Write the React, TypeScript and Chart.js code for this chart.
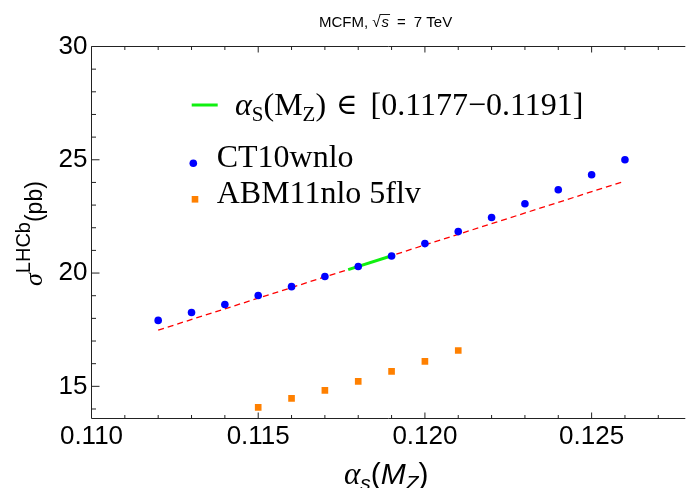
import React, { useEffect, useRef } from "react";
import { Chart, registerables } from "chart.js";
Chart.register(...registerables);

// ---- data ----
const ct10Alpha = [0.112, 0.113, 0.114, 0.115, 0.116, 0.117, 0.118, 0.119, 0.12, 0.121, 0.122, 0.123, 0.124, 0.125, 0.126];
const ct10Sigma = [17.91, 18.26, 18.61, 19.01, 19.4, 19.85, 20.29, 20.75, 21.3, 21.83, 22.45, 23.06, 23.68, 24.34, 25.0];
const abmAlpha = [0.115, 0.116, 0.117, 0.118, 0.119, 0.12, 0.121];
const abmSigma = [14.07, 14.47, 14.82, 15.22, 15.66, 16.1, 16.58];
const fitAlpha = [0.112, 0.126];
const fitSigma = [17.48, 24.06];
const rangeAlpha = [0.1177, 0.1191];
const rangeSigma = [20.15, 20.81];
const xMajor = [0.11, 0.115, 0.12, 0.125];
const xMinor = [0.111, 0.112, 0.113, 0.114, 0.116, 0.117, 0.118, 0.119, 0.121, 0.122, 0.123, 0.124, 0.126, 0.127];
const yMajor = [15, 20, 25, 30];
const yMinor = [14, 16, 17, 18, 19, 21, 22, 23, 24, 26, 27, 28, 29];
const xLimits = [0.11, 0.12775];
const yLimits = [13.58, 30];

const SANS = "'Liberation Sans', Arial, sans-serif";
const SERIF = "'Liberation Serif', 'Times New Roman', serif";

type Seg = { t: string; f: string; dy?: number; gap?: number };

function drawSegs(ctx: CanvasRenderingContext2D, x: number, y: number, segs: Seg[]) {
  let cx = x;
  for (const s of segs) {
    cx += s.gap || 0;
    ctx.font = s.f;
    ctx.fillText(s.t, cx, y + (s.dy || 0));
    cx += ctx.measureText(s.t).width;
  }
  return cx;
}

const decorPlugin = {
  id: "decor",
  afterDraw(chart: any) {
    const { ctx, chartArea, scales } = chart;
    const xs = scales.x;
    const ys = scales.y;
    const { left, right, top, bottom } = chartArea;
    ctx.save();
    // frame
    ctx.strokeStyle = "#222";
    ctx.lineWidth = 1;
    ctx.beginPath();
    ctx.moveTo(right + 2, top);
    ctx.lineTo(left, top);
    ctx.lineTo(left, bottom);
    ctx.lineTo(right + 2, bottom);
    ctx.stroke();
    // x ticks (bottom & top), inward
    const xt = (v: number, len: number) => {
      const px = xs.getPixelForValue(v);
      if (px <= left + 0.5 || px > right) return;
      ctx.beginPath();
      ctx.moveTo(px, bottom);
      ctx.lineTo(px, bottom - len);
      ctx.moveTo(px, top);
      ctx.lineTo(px, top + len);
      ctx.stroke();
    };
    xMajor.forEach((v) => xt(v, 6));
    xMinor.forEach((v) => xt(v, 3.5));
    const yt = (v: number, len: number) => {
      const py = ys.getPixelForValue(v);
      if (py < top - 0.5 || py > bottom) return;
      ctx.beginPath();
      ctx.moveTo(left, py);
      ctx.lineTo(left + len, py);
      ctx.stroke();
    };
    yMajor.forEach((v) => yt(v, 8));
    yMinor.forEach((v) => yt(v, 4.5));

    ctx.fillStyle = "#000";
    ctx.textBaseline = "alphabetic";
    ctx.textAlign = "left";

    // title
    const tEnd = drawSegs(ctx, 319, 27, [
      { t: "MCFM, ", f: `15px ${SANS}` },
      { t: "\u221A", f: `15px ${SANS}` },
    ]);
    const sEnd = drawSegs(ctx, tEnd, 27, [{ t: "s", f: `italic 15px ${SANS}`, gap: 1 }]);
    ctx.beginPath();
    ctx.lineWidth = 0.9;
    ctx.strokeStyle = "#000";
    ctx.moveTo(tEnd - 1, 14.5);
    ctx.lineTo(sEnd + 1, 14.5);
    ctx.stroke();
    drawSegs(ctx, sEnd, 27, [
      { t: "=", f: `15px ${SANS}`, gap: 8 },
      { t: "7 TeV", f: `15px ${SANS}`, gap: 8 },
    ]);

    // x axis title
    drawSegs(ctx, 344, 484, [
      { t: "\u03B1", f: `italic 31px ${SERIF}` },
      { t: "s", f: `italic 21px ${SANS}`, dy: 6 },
      { t: "(", f: `30px ${SANS}` },
      { t: "M", f: `italic 30px ${SANS}` },
      { t: "Z", f: `italic 21px ${SANS}`, dy: 6 },
      { t: ")", f: `30px ${SANS}` },
    ]);

    // y axis title (rotated)
    ctx.save();
    ctx.translate(42, 286);
    ctx.rotate(-Math.PI / 2);
    drawSegs(ctx, 0, 0, [
      { t: "\u03C3", f: `italic 26px ${SERIF}` },
      { t: "LHCb", f: `20px ${SANS}`, dy: -12 },
      { t: "(pb)", f: `23px ${SANS}` },
    ]);
    ctx.restore();

    // legend
    ctx.strokeStyle = "#10F010";
    ctx.lineWidth = 3;
    ctx.beginPath();
    ctx.moveTo(191.7, 105);
    ctx.lineTo(217.7, 105);
    ctx.stroke();
    drawSegs(ctx, 235, 115, [
      { t: "\u03B1", f: `italic 32px ${SERIF}` },
      { t: "S", f: `21px ${SERIF}`, dy: 6 },
      { t: "(M", f: `32px ${SERIF}` },
      { t: "Z", f: `21px ${SERIF}`, dy: 6 },
      { t: ")", f: `32px ${SERIF}` },
      { t: "\u2208", f: `29px 'DejaVu Serif', serif`, gap: 10, dy: -1 },
      { t: "[0.1177\u22120.1191]", f: `32px ${SERIF}`, gap: 13 },
    ]);
    ctx.fillStyle = "#0000FF";
    ctx.beginPath();
    ctx.arc(193.3, 163.3, 3.8, 0, Math.PI * 2);
    ctx.fill();
    ctx.fillStyle = "#FF8000";
    ctx.fillRect(195 - 3.3, 199.3 - 3.3, 6.6, 6.6);
    ctx.fillStyle = "#000";
    ctx.font = `32px ${SERIF}`;
    ctx.fillText("CT10wnlo", 216.7, 167.3);
    ctx.fillText("ABM11nlo 5flv", 216.7, 203.3);
    ctx.restore();
  },
};

export default function App() {
  const ref = useRef<HTMLCanvasElement | null>(null);
  useEffect(() => {
    document.body.style.margin = "0";
    const canvas = ref.current;
    if (!canvas) return;
    const toPts = (xa: number[], ya: number[]) => xa.map((x, i) => ({ x, y: ya[i] }));
    const chart = new Chart(canvas, {
      type: "scatter",
      data: {
        datasets: [
          {
            label: "CT10wnlo",
            data: toPts(ct10Alpha, ct10Sigma),
            backgroundColor: "#0000FF",
            borderWidth: 0,
            pointRadius: 3.8,
            pointStyle: "circle",
          },
          {
            label: "ABM11nlo 5flv",
            data: toPts(abmAlpha, abmSigma),
            backgroundColor: "#FF8000",
            borderWidth: 0,
            pointRadius: 4.7,
            pointStyle: "rect",
          },
          {
            label: "range",
            data: toPts(rangeAlpha, rangeSigma),
            showLine: true,
            borderColor: "#10F010",
            borderWidth: 3,
            pointRadius: 0,
          },
          {
            label: "fit",
            data: toPts(fitAlpha, fitSigma),
            showLine: true,
            borderColor: "#FF0000",
            borderWidth: 1.3,
            borderDash: [6, 4],
            pointRadius: 0,
          },
        ] as any,
      },
      options: {
        animation: false,
        responsive: false,
        layout: { padding: { top: 46.5, left: 0, right: 0, bottom: 0 } },
        plugins: { legend: { display: false }, tooltip: { enabled: false }, title: { display: false } },
        scales: {
          x: {
            type: "linear",
            position: "bottom",
            min: xLimits[0],
            max: xLimits[1],
            grid: { display: false, drawTicks: false },
            border: { display: false },
            ticks: {
              color: "#000",
              font: { family: "Liberation Sans", size: 26 },
              padding: 3,
              autoSkip: false,
              maxRotation: 0,
              callback: (v: any) => Number(v).toFixed(3),
            },
            afterBuildTicks: (s: any) => {
              s.ticks = xMajor.map((v) => ({ value: v }));
            },
            afterFit: (s: any) => {
              s.height = 69.5;
            },
          },
          y: {
            type: "linear",
            position: "left",
            min: yLimits[0],
            max: yLimits[1],
            grid: { display: false, drawTicks: false },
            border: { display: false },
            ticks: {
              color: "#000",
              font: { family: "Liberation Sans", size: 26 },
              padding: 4,
              autoSkip: false,
              callback: (v: any) => String(v),
            },
            afterBuildTicks: (s: any) => {
              s.ticks = yMajor.map((v) => ({ value: v }));
            },
            afterFit: (s: any) => {
              s.width = 91.5;
            },
          },
        },
      } as any,
      plugins: [decorPlugin],
    });
    return () => chart.destroy();
  }, []);
  return (
    <div style={{ position: "absolute", left: 0, top: 0, width: 688, height: 488, background: "#fff" }}>
      <canvas ref={ref} width={688} height={488} />
    </div>
  );
}
